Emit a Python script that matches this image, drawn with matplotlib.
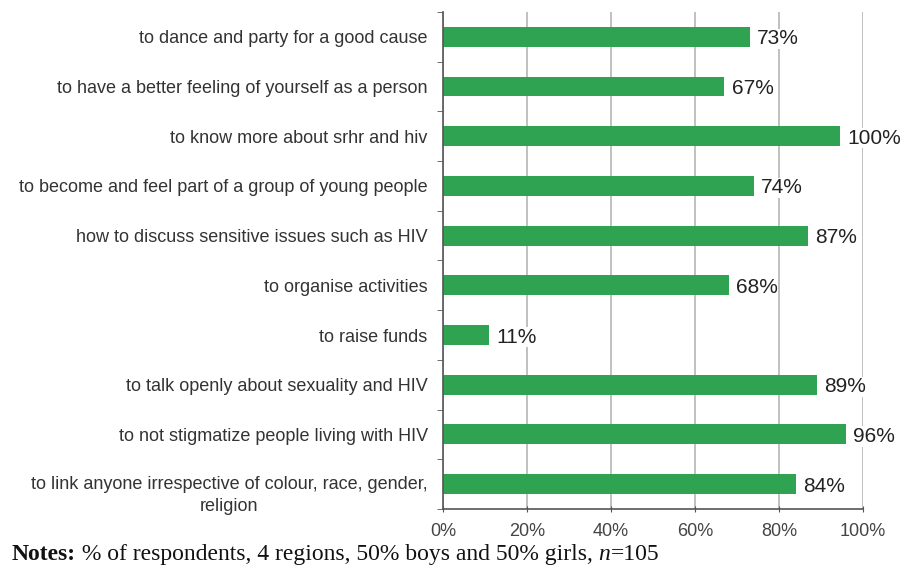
import numpy as np
import matplotlib.pyplot as plt
from matplotlib.transforms import ScaledTranslation

categories = [
    "to dance and party for a good cause",
    "to have a better feeling of yourself as a person",
    "to know more about srhr and hiv",
    "to become and feel part of a group of young people",
    "how to discuss sensitive issues such as HIV",
    "to organise activities",
    "to raise funds",
    "to talk openly about sexuality and HIV",
    "to not stigmatize people living with HIV",
    "to link anyone irrespective of colour, race, gender,\nreligion",
]
# bar lengths as drawn in the figure (percent)
values = [73, 67, 94.5, 74, 87, 68, 11, 89, 96, 84]
value_labels = ["73%", "67%", "100%", "74%", "87%", "68%", "11%", "89%", "96%", "84%"]
xticks = [0, 20, 40, 60, 80, 100]
xtick_labels = ["0%", "20%", "40%", "60%", "80%", "100%"]

green = "#2fa352"

fig = plt.figure(figsize=(9.01, 5.78), dpi=100)
ax = fig.add_axes([0.4917, 0.1194, 0.4662, 0.8599])

y = np.arange(len(categories))
ax.barh(y, values, height=0.4, color=green, zorder=2)
ax.set_ylim(len(categories) - 0.5, -0.5)
ax.set_xlim(0, 100)

for yi, v, lab in zip(y, values, value_labels):
    ax.text(v + 1.7, yi, lab, va="center_baseline", ha="left", fontsize=15,
            family="Liberation Sans", color="#222222", zorder=3,
            bbox=dict(facecolor="white", edgecolor="none", pad=0.5))

ax.set_xticks(xticks)
ax.set_xticklabels(xtick_labels, family="Liberation Sans", fontsize=13, color="#444444")
ax.set_yticks(y)
ax.set_yticklabels(categories, family="Liberation Sans", fontsize=13, color="#333333",
                   multialignment="center", linespacing=1.4)
ax.tick_params(axis="y", length=0, pad=11)
ax.set_yticks(np.arange(-0.5, len(categories)), minor=True)
ax.tick_params(axis="y", which="minor", length=4, direction="out", color="#555555")
ax.tick_params(axis="x", length=4, direction="inout", color="#555555", pad=8)

# two-line label: first line level with its bar
last = ax.get_yticklabels()[-1]
last.set_transform(last.get_transform() + ScaledTranslation(0, -0.07, fig.dpi_scale_trans))

ax.grid(axis="x", color="#b5b5b5", linewidth=1.2, zorder=0)
for s in ["top", "right"]:
    ax.spines[s].set_visible(False)
for s in ["left", "bottom"]:
    ax.spines[s].set_color("#555555")
    ax.spines[s].set_linewidth(1.2)

# notes line: bold prefix, italic n
r = fig.canvas.get_renderer()
ny = 0.032
parts = [("Notes:", "normal", "bold"),
         (" % of respondents, 4 regions, 50% boys and 50% girls, ", "normal", "normal"),
         ("n", "italic", "normal"),
         ("=105", "normal", "normal")]
nx = 0.013
for txt, st, wt in parts:
    t = fig.text(nx, ny, txt, fontsize=17, family="Liberation Serif", style=st,
                 weight=wt, color="#111111")
    nx = t.get_window_extent(r).x1 / fig.bbox.width

fig.savefig("out.png", dpi=100)
